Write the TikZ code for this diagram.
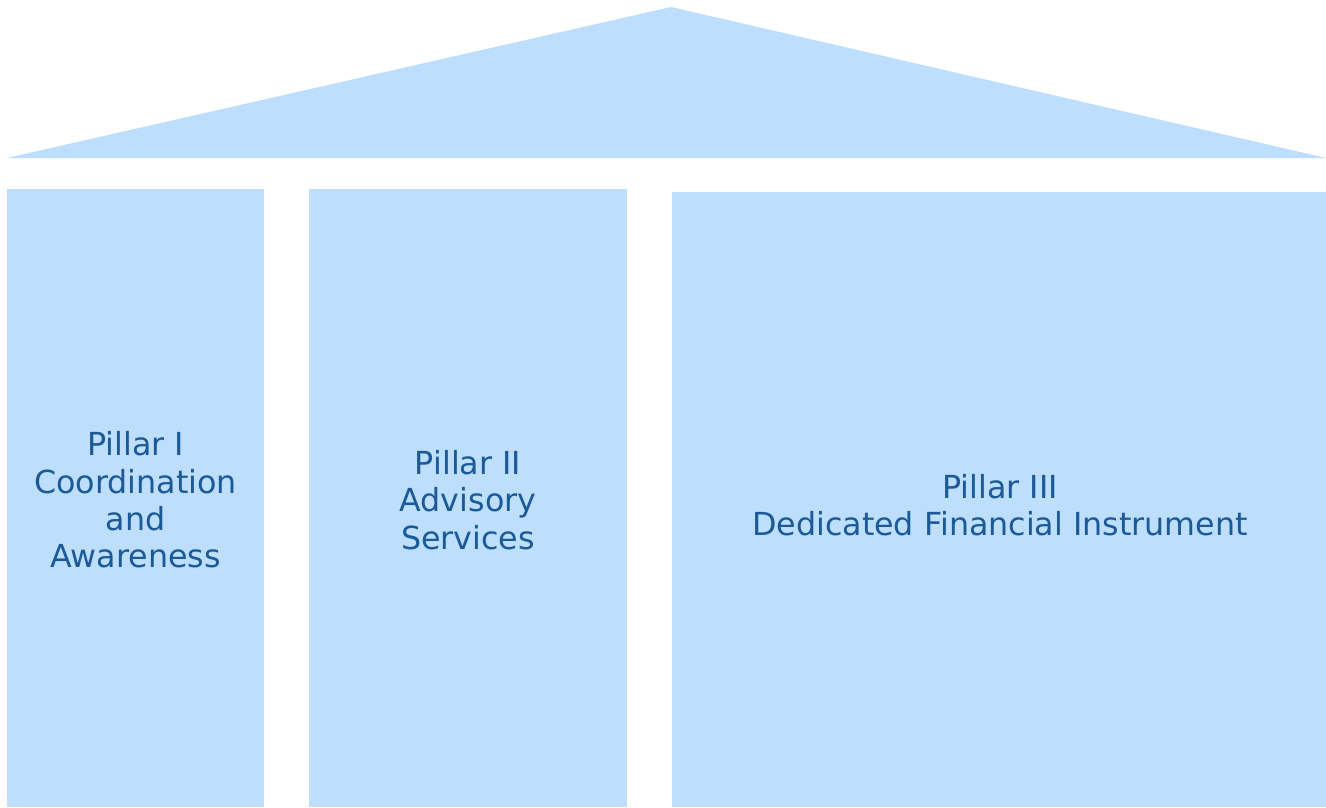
\documentclass[tikz,border=0pt]{standalone}
\usepackage{fontspec}
\setmainfont{DejaVu Sans}
\definecolor{pillarfill}{RGB}{189,222,253}
\definecolor{pillartext}{RGB}{27,90,153}
\begin{document}
\begin{tikzpicture}[x=0.75pt,y=-0.75pt,
  shapefill/.style={fill=pillarfill},
  label/.style={text=pillartext,align=center,inner sep=0pt,
    font=\fontsize{23.8pt}{28pt}\selectfont}]
\useasboundingbox[fill=white] (0,0) rectangle (1326,807);
% roof
\fill[shapefill] (7,158) -- (671,7) -- (1326,158) -- cycle;
% pillars
\fill[shapefill] (7,189) rectangle (264,807);
\fill[shapefill] (309,189) rectangle (627,807);
\fill[shapefill] (672,192) rectangle (1326,807);
% labels
\node[label] (p1) at (135.5,500) {Pillar I\\Coordination\\and\\Awareness};
\node[label] (p2) at (468,500) {Pillar II\\Advisory\\Services};
\node[label] (p3) at (1000,505) {Pillar III\\Dedicated Financial Instrument};
\end{tikzpicture}
\end{document}
